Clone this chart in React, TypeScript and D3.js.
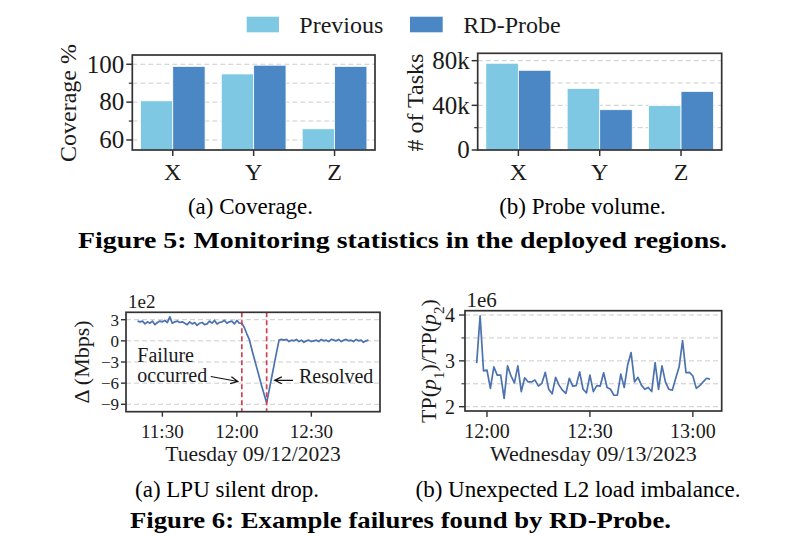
import React from "react";
import * as d3 from "d3";

const FONT = "'Liberation Serif','Times New Roman',serif";
const LIGHT = "#7ec8e3";
const DARK = "#4b87c5";
const LINE = "#4c72b0";
const RED = "#d2414f";
const SPINE = "#333333";
const GRID = "#cccccc";
const TEXT = "#1a1a1a";

// ---------- Figure 5 data ----------
const barCategories = ["X", "Y", "Z"];
const seriesNames = ["Previous", "RD-Probe"];
const coveragePrevious = [80.7, 94.9, 65.9];
const coverageRDProbe = [98.9, 99.5, 98.9];
const coverageTicks = [60, 80, 100];
const coverageMinorTicks = [70, 90];
const coverageTickLabels = ["60", "80", "100"];
const tasksPrevious = [77700, 55200, 39700];
const tasksRDProbe = [71400, 36100, 52500];
const tasksTicks = [0, 40000, 80000];
const tasksMinorTicks = [20000, 60000];
const tasksTickLabels = ["0", "40k", "80k"];

// ---------- Figure 6(a) data: delta in units of 1e2 Mbps, one sample per minute ----------
const dropStartTime = "2023-09-12T11:20:00";
const dropDelta = [
  2.8, 2.7, 2.8, 2.4, 2.7, 2.5, 2.8, 2.3, 2.6, 2.8,
  2.7, 2.9, 2.6, 3.4, 2.5, 2.7, 2.8, 2.6, 2.7, 2.5,
  2.3, 2.7, 2.4, 2.6, 2.2, 2.5, 2.6, 2.3, 2.4, 2.8,
  2.5, 2.9, 2.4, 2.6, 2.7, 2.9, 2.5, 2.7, 2.8, 2.4,
  2.9, 2.5, 2.5, 1.9, 1.0, 0.2, -1.2, -2.5, -3.8, -5.1,
  -6.4, -7.6, -8.8, -7.0, -5.2, -3.4, -1.6, 0.1, 0.2, 0.1,
  0.2, -0.1, 0.1, 0.0, 0.2, -0.1, 0.1, -0.2, 0.0, 0.1,
  -0.1, 0.0, 0.1, -0.1, 0.2, 0.0, 0.1, -0.1, 0.2, 0.1,
  0.0, 0.2, -0.1, 0.1, 0.2, 0.0, 0.1, -0.1, 0.2, 0.0,
  0.1, -0.2, 0.0, 0.1,
];
const dropEvents = ["2023-09-12T12:02:00", "2023-09-12T12:12:00"];
const dropXTicks = ["2023-09-12T11:30:00", "2023-09-12T12:00:00", "2023-09-12T12:30:00"];
const dropYTicks = [3, 0, -3, -6, -9];

// ---------- Figure 6(b) data: ratio in units of 1e6, one sample per minute ----------
const imbStartTime = "2023-09-13T11:57:00";
const imbRatio = [
  2.95, 3.98, 2.78, 2.8, 2.4, 2.87, 2.69, 2.69, 2.18, 2.89,
  2.67, 2.52, 2.89, 2.33, 2.63, 2.54, 2.54, 2.58, 2.45, 2.51,
  2.75, 2.38, 2.28, 2.64, 2.47, 2.36, 2.29, 2.62, 2.45, 2.46,
  2.76, 2.38, 2.3, 2.69, 2.33, 2.46, 2.45, 2.74, 2.42, 2.38,
  2.25, 2.25, 2.71, 2.42, 2.91, 3.18, 2.54, 2.64, 2.47, 2.38,
  2.42, 2.33, 2.96, 2.38, 2.89, 2.54, 2.38, 2.36, 2.62, 2.87,
  3.44, 2.74, 2.75, 2.67, 2.4, 2.46, 2.54, 2.62, 2.6,
];
const imbXTicks = ["2023-09-13T12:00:00", "2023-09-13T12:30:00", "2023-09-13T13:00:00"];
const imbYTicks = [2, 3, 4];
const imbMinorYTicks = [2.5, 3.5];

const parseT = d3.timeParse("%Y-%m-%dT%H:%M:%S");
const fmtT = d3.timeFormat("%H:%M");
const fmtMinus = (v: number) => (v < 0 ? "\u2212" + Math.abs(v) : String(v));

function BarPanel(props: any) {
  const { left, right, top, bottom, domain, prev, rd, ticks, minor, tickLabels, ylabel, ylabelX, ylabelY } = props;
  const x = d3.scalePoint<string>().domain(barCategories).range([left, right]).padding(0.5);
  const bw = x.step() * 0.4;
  const y = d3.scaleLinear().domain(domain).range([bottom, top]);
  const yb = domain[0] > 0 ? bottom : y(0);
  return (
    <g>
      {[...ticks, ...minor].map((t: number, i: number) => (
        <line key={"g" + i} x1={left} x2={right} y1={y(t)} y2={y(t)} stroke={GRID} strokeWidth={1} strokeDasharray="5,3" />
      ))}
      {barCategories.map((c, i) => (
        <g key={c}>
          <rect x={(x(c) as number) - bw} y={y(prev[i])} width={bw} height={yb - y(prev[i])} fill={LIGHT} stroke="#fff" strokeWidth={0.8} />
          <rect x={x(c) as number} y={y(rd[i])} width={bw} height={yb - y(rd[i])} fill={DARK} stroke="#fff" strokeWidth={0.8} />
        </g>
      ))}
      <rect x={left} y={top} width={right - left} height={bottom - top} fill="none" stroke={SPINE} strokeWidth={1.7} />
      {ticks.map((t: number, i: number) => (
        <g key={"t" + i}>
          <line x1={left - 6} x2={left} y1={y(t)} y2={y(t)} stroke={SPINE} strokeWidth={1.5} />
          <text x={left - 8} y={y(t)} dy="0.33em" textAnchor="end" fontSize={25} fontFamily={FONT} fill={TEXT}>{tickLabels[i]}</text>
        </g>
      ))}
      {minor.map((t: number, i: number) => (
        <line key={"m" + i} x1={left - 3.5} x2={left} y1={y(t)} y2={y(t)} stroke={SPINE} strokeWidth={1.2} />
      ))}
      {barCategories.map((c) => (
        <g key={"x" + c}>
          <line x1={x(c)} x2={x(c)} y1={bottom} y2={bottom + 6} stroke={SPINE} strokeWidth={1.5} />
          <text x={x(c)} y={180} textAnchor="middle" fontSize={24} fontFamily={FONT} fill={TEXT}>{c}</text>
        </g>
      ))}
      <text transform={`translate(${ylabelX},${ylabelY}) rotate(-90)`} dy="0.35em" textAnchor="middle" fontSize={24} fontFamily={FONT} fill={TEXT}>{ylabel}</text>
    </g>
  );
}

function DropPanel() {
  const left = 126, right = 380, top = 312.3, bottom = 411.7;
  const start = parseT(dropStartTime) as Date;
  const pts = dropDelta.map((v, i) => ({ t: d3.timeMinute.offset(start, i), v }));
  const ext = d3.extent(pts, (d) => +d.t) as [number, number];
  const pad = (ext[1] - ext[0]) * 0.05;
  const x = d3.scaleTime().domain([new Date(ext[0] - pad), new Date(ext[1] + pad)]).range([left, right]);
  const y = d3.scaleLinear().domain([-10.05, 4.05]).range([bottom, top]);
  const line = d3.line<any>().x((d) => x(d.t)).y((d) => y(d.v));
  const tAt = (s: string) => x(parseT(s) as Date);
  const arrow = (x1: number, y1: number, x2: number, y2: number) => {
    const a = Math.atan2(y2 - y1, x2 - x1);
    const L = 8, s = 0.45;
    const h1 = [x2 - L * Math.cos(a - s), y2 - L * Math.sin(a - s)];
    const h2 = [x2 - L * Math.cos(a + s), y2 - L * Math.sin(a + s)];
    return `M${x1},${y1}L${x2},${y2}M${h1[0]},${h1[1]}L${x2},${y2}L${h2[0]},${h2[1]}`;
  };
  return (
    <g>
      {dropYTicks.map((t) => (
        <line key={"g" + t} x1={left} x2={right} y1={y(t)} y2={y(t)} stroke={GRID} strokeWidth={1} strokeDasharray="5,3" />
      ))}
      <path d={line(pts) as string} fill="none" stroke={LINE} strokeWidth={1.7} strokeLinejoin="round" />
      {dropEvents.map((e) => (
        <line key={e} x1={tAt(e)} x2={tAt(e)} y1={top} y2={bottom} stroke={RED} strokeWidth={1.7} strokeDasharray="5,3" />
      ))}
      <rect x={left} y={top} width={right - left} height={bottom - top} fill="none" stroke={SPINE} strokeWidth={1.7} />
      {dropYTicks.map((t) => (
        <g key={"t" + t}>
          <line x1={left - 5} x2={left} y1={y(t)} y2={y(t)} stroke={SPINE} strokeWidth={1.4} />
          <text x={left - 7} y={y(t)} dy="0.35em" textAnchor="end" fontSize={17} fontFamily={FONT} fill={TEXT}>{fmtMinus(t)}</text>
        </g>
      ))}
      {dropXTicks.map((s) => (
        <g key={s}>
          <line x1={tAt(s)} x2={tAt(s)} y1={bottom} y2={bottom + 5} stroke={SPINE} strokeWidth={1.4} />
          <text x={tAt(s)} y={437.5} textAnchor="middle" fontSize={19} fontFamily={FONT} fill={TEXT}>{fmtT(parseT(s) as Date)}</text>
        </g>
      ))}
      <text x={(left + right) / 2} y={461} textAnchor="middle" fontSize={21.5} fontFamily={FONT} fill={TEXT}>Tuesday 09/12/2023</text>
      <text x={128} y={308} fontSize={19} fontFamily={FONT} fill={TEXT}>1e2</text>
      <text transform={`translate(81.7,362) rotate(-90)`} dy="0.35em" textAnchor="middle" fontSize={22} fontFamily={FONT} fill={TEXT}>Δ (Mbps)</text>
      <text x={x(parseT("2023-09-12T11:19:54") as Date)} y={y(-2.94)} fontSize={20} fontFamily={FONT} fill={TEXT}>Failure</text>
      <text x={x(parseT("2023-09-12T11:19:54") as Date)} y={y(-5.77)} fontSize={20} fontFamily={FONT} fill={TEXT}>occurred</text>
      <path d={arrow(x(parseT("2023-09-12T11:49:30") as Date), y(-5.06), x(parseT("2023-09-12T12:00:24") as Date), y(-5.77))} fill="none" stroke="#111" strokeWidth={1.2} />
      <path d={arrow(x(parseT("2023-09-12T12:22:36") as Date), y(-5.6), x(parseT("2023-09-12T12:15:12") as Date), y(-5.6))} fill="none" stroke="#111" strokeWidth={1.2} />
      <text x={x(parseT("2023-09-12T12:25:00") as Date)} y={y(-5.95)} fontSize={20} fontFamily={FONT} fill={TEXT}>Resolved</text>
    </g>
  );
}

function ImbalancePanel() {
  const left = 465, right = 721.7, top = 310.7, bottom = 411;
  const start = parseT(imbStartTime) as Date;
  const pts = imbRatio.map((v, i) => ({ t: d3.timeMinute.offset(start, i), v }));
  const ext = d3.extent(pts, (d) => +d.t) as [number, number];
  const pad = (ext[1] - ext[0]) * 0.05;
  const x = d3.scaleTime().domain([new Date(ext[0] - pad), new Date(ext[1] + pad)]).range([left, right]);
  const y = d3.scaleLinear().domain([1.906, 4.094]).range([bottom, top]);
  const line = d3.line<any>().x((d) => x(d.t)).y((d) => y(d.v));
  const tAt = (s: string) => x(parseT(s) as Date);
  return (
    <g>
      {[...imbYTicks, ...imbMinorYTicks].map((t) => (
        <line key={"g" + t} x1={left} x2={right} y1={y(t)} y2={y(t)} stroke={GRID} strokeWidth={1} strokeDasharray="5,3" />
      ))}
      <path d={line(pts) as string} fill="none" stroke={LINE} strokeWidth={1.7} strokeLinejoin="round" />
      <rect x={left} y={top} width={right - left} height={bottom - top} fill="none" stroke={SPINE} strokeWidth={1.7} />
      {imbYTicks.map((t) => (
        <g key={"t" + t}>
          <line x1={left - 6} x2={left} y1={y(t)} y2={y(t)} stroke={SPINE} strokeWidth={1.4} />
          <text x={left - 10} y={y(t)} dy="0.35em" textAnchor="end" fontSize={20} fontFamily={FONT} fill={TEXT}>{t}</text>
        </g>
      ))}
      {imbMinorYTicks.map((t) => (
        <line key={"m" + t} x1={left - 3.5} x2={left} y1={y(t)} y2={y(t)} stroke={SPINE} strokeWidth={1.1} />
      ))}
      {imbXTicks.map((s) => (
        <g key={s}>
          <line x1={tAt(s)} x2={tAt(s)} y1={bottom} y2={bottom + 6} stroke={SPINE} strokeWidth={1.4} />
          <text x={tAt(s)} y={437.5} textAnchor="middle" fontSize={20} fontFamily={FONT} fill={TEXT}>{fmtT(parseT(s) as Date)}</text>
        </g>
      ))}
      <text x={(left + right) / 2} y={461} textAnchor="middle" fontSize={22} fontFamily={FONT} fill={TEXT}>Wednesday 09/13/2023</text>
      <text x={466.5} y={306.5} fontSize={21} fontFamily={FONT} fill={TEXT}>1e6</text>
      <text transform={`translate(428,361) rotate(-90)`} dy="0.35em" textAnchor="middle" fontSize={22} fontFamily={FONT} fill={TEXT}>
        TP(<tspan fontStyle="italic">p</tspan><tspan fontSize={15} baselineShift="sub">1</tspan>)/TP(<tspan fontStyle="italic">p</tspan><tspan fontSize={15} baselineShift="sub">2</tspan>)
      </text>
    </g>
  );
}

function SubCaption({ cx, y, text }: any) {
  return (
    <text x={cx} y={y} textAnchor="middle" fontSize={23} fontFamily={FONT} fill="#000">{text}</text>
  );
}

function FigCaption({ x1, x2, y, text }: any) {
  return (
    <text x={x1} y={y} textLength={x2 - x1} lengthAdjust="spacingAndGlyphs" fontSize={23} fontWeight="bold" fontFamily={FONT} fill="#000">
      {text}
    </text>
  );
}

export default function App() {
  return (
    <svg width={800} height={538} style={{ position: "absolute", left: 0, top: 0, background: "#fff" }}>
      <rect width={800} height={538} fill="#fff" />
      {/* legend */}
      <rect x={246.7} y={16.7} width={32.3} height={15.6} fill={LIGHT} />
      <text x={299.3} y={33} fontSize={24} fontFamily={FONT} fill={TEXT}>{seriesNames[0]}</text>
      <rect x={410} y={16.7} width={32.7} height={15.6} fill={DARK} />
      <text x={463.3} y={33} fontSize={24} fontFamily={FONT} fill={TEXT}>{seriesNames[1]}</text>

      <BarPanel left={132.3} right={375} top={55} bottom={150} domain={[54.7, 104.9]}
        prev={coveragePrevious} rd={coverageRDProbe} ticks={coverageTicks} minor={coverageMinorTicks}
        tickLabels={coverageTickLabels} ylabel="Coverage %" ylabelX={68} ylabelY={103} />
      <BarPanel left={477.7} right={721.7} top={53.3} bottom={150} domain={[0, 86600]}
        prev={tasksPrevious} rd={tasksRDProbe} ticks={tasksTicks} minor={tasksMinorTicks}
        tickLabels={tasksTickLabels} ylabel="# of Tasks" ylabelX={415} ylabelY={102.5} />

      <SubCaption cx={250.5} y={214} text="(a) Coverage." />
      <SubCaption cx={582.5} y={214} text="(b) Probe volume." />
      <FigCaption x1={78} x2={727} y={248} text="Figure 5: Monitoring statistics in the deployed regions." />

      <DropPanel />
      <ImbalancePanel />

      <SubCaption cx={227} y={497} text="(a) LPU silent drop." />
      <SubCaption cx={578} y={497} text="(b) Unexpected L2 load imbalance." />
      <FigCaption x1={130} x2={671} y={528} text="Figure 6: Example failures found by RD-Probe." />
    </svg>
  );
}
